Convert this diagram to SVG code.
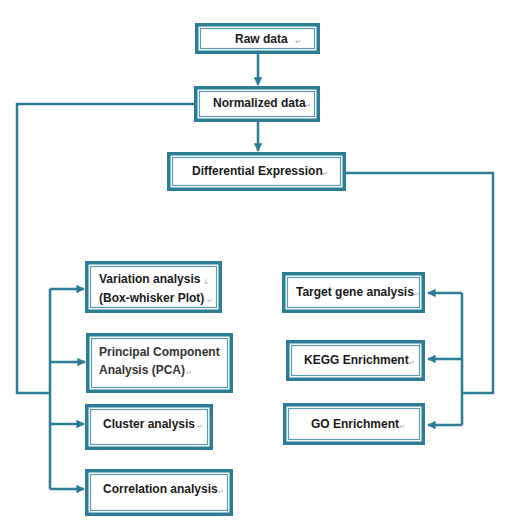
<svg xmlns="http://www.w3.org/2000/svg" width="511" height="521" viewBox="0 0 511 521">
<style>
.o{fill:#fff;stroke:#2b7d96;stroke-width:3.5}
.i{fill:none;stroke:#5a9db1;stroke-width:1.2}
.t{font-family:"Liberation Sans",Arial,sans-serif;font-weight:bold;font-size:12px;fill:#1a1a1a}
.m{font-family:"DejaVu Sans",sans-serif;font-size:7px;fill:#aaa}
.c{fill:none;stroke:#2b7d96;stroke-width:2.5}
</style>
<defs>
<marker id="a" viewBox="0 0 10 10" refX="9" refY="5" markerWidth="3.4" markerHeight="3.4" orient="auto" markerUnits="strokeWidth">
<path d="M0,0 L10,5 L0,10 z" fill="#2b7d96"/>
</marker>
</defs>
<rect width="511" height="521" fill="#fff"/>
<g id="connectors">
<path class="c" d="M258,54 V85" marker-end="url(#a)"/>
<path class="c" d="M258,122 V151" marker-end="url(#a)"/>
<path class="c" d="M194,104 H17 V393 H50"/>
<path class="c" d="M50,289 V489"/>
<path class="c" d="M50,289 H84" marker-end="url(#a)"/>
<path class="c" d="M50,362 H85" marker-end="url(#a)"/>
<path class="c" d="M50,424 H84" marker-end="url(#a)"/>
<path class="c" d="M50,489 H84" marker-end="url(#a)"/>
<path class="c" d="M346,173 H493 V393 H462"/>
<path class="c" d="M462,293 V425"/>
<path class="c" d="M462,293 H428" marker-end="url(#a)"/>
<path class="c" d="M462,359 H428" marker-end="url(#a)"/>
<path class="c" d="M462,425 H428" marker-end="url(#a)"/>
</g>
<g id="raw">
<rect class="o" x="196.75" y="24.75" width="121.5" height="27.5"/>
<rect class="i" x="200.5" y="28.5" width="114" height="20"/>
<text class="t" x="235" y="43">Raw data</text><text class="m" x="295" y="44">↵</text>
</g>
<g id="normalized">
<rect class="o" x="195.75" y="87.75" width="122.5" height="32.5"/>
<rect class="i" x="199.5" y="91.5" width="115" height="25"/>
<text class="t" x="213" y="107">Normalized data</text><text class="m" x="305" y="108">↵</text>
</g>
<g id="diff">
<rect class="o" x="168.75" y="153.75" width="175.5" height="35.5"/>
<rect class="i" x="172.5" y="157.5" width="168" height="28"/>
<text class="t" x="192" y="175">Differential Expression</text><text class="m" x="322" y="176">↵</text>
</g>
<g id="variation">
<rect class="o" x="86.75" y="262.75" width="133.5" height="48.5"/>
<rect class="i" x="90.5" y="266.5" width="126" height="41"/>
<text class="t" x="99" y="283">Variation analysis</text><text class="m" x="203" y="284">↓</text>
<text class="t" x="99" y="302">(Box-whisker Plot)</text><text class="m" x="207" y="303">↵</text>
</g>
<g id="pca">
<rect class="o" x="87.75" y="334.75" width="143.5" height="56.5"/>
<rect class="i" x="91.5" y="338.5" width="136" height="49"/>
<text class="t" x="99" y="356" style="fill:#333">Principal Component</text>
<text class="t" x="99" y="374" style="fill:#333">Analysis (PCA)</text><text class="m" x="186" y="375">↵</text>
</g>
<g id="cluster">
<rect class="o" x="86.75" y="405.75" width="124.5" height="42.5"/>
<rect class="i" x="90.5" y="409.5" width="117" height="35"/>
<text class="t" x="103" y="428">Cluster analysis</text><text class="m" x="197" y="429">↵</text>
</g>
<g id="correlation">
<rect class="o" x="86.75" y="470.75" width="144.5" height="43.5"/>
<rect class="i" x="90.5" y="474.5" width="137" height="36"/>
<text class="t" x="103" y="493">Correlation analysis</text><text class="m" x="218" y="494">↵</text>
</g>
<g id="target">
<rect class="o" x="283.75" y="273.75" width="139.5" height="37.5"/>
<rect class="i" x="287.5" y="277.5" width="132" height="30"/>
<text class="t" x="296" y="296">Target gene analysis</text><text class="m" x="413" y="297">↵</text>
</g>
<g id="kegg">
<rect class="o" x="287.75" y="341.75" width="135.5" height="37.5"/>
<rect class="i" x="291.5" y="345.5" width="128" height="30"/>
<text class="t" x="304" y="364">KEGG Enrichment</text><text class="m" x="409" y="365">↵</text>
</g>
<g id="go">
<rect class="o" x="284.75" y="404.75" width="138.5" height="38.5"/>
<rect class="i" x="288.5" y="408.5" width="131" height="31"/>
<text class="t" x="311" y="428">GO Enrichment</text><text class="m" x="399" y="429">↵</text>
</g>
</svg>
